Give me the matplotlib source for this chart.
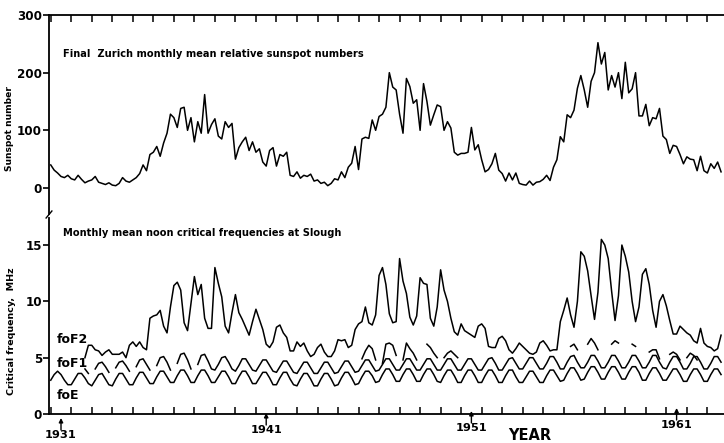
import numpy as np
import matplotlib
matplotlib.use("Agg")
import matplotlib.pyplot as plt

nan = np.nan
# time grid: every 2 months starting Jan 1931
start_year = 1931.0
step = 1.0 / 6.0

sunspot = [
    40, 31, 26, 20, 18, 22, 16, 14, 22, 15,
    9, 12, 14, 20, 10, 8, 6, 9, 5, 4,
    8, 18, 12, 10, 14, 18, 25, 40, 30, 58,
    62, 72, 55, 78, 95, 128, 122, 105, 138, 140,
    100, 122, 80, 115, 95, 162, 95, 110, 120, 90,
    85, 115, 105, 112, 50, 70, 80, 88, 65, 80,
    62, 68, 45, 38, 65, 70, 38, 58, 55, 62,
    22, 20, 28, 17, 22, 20, 24, 12, 14, 8,
    10, 4, 8, 16, 14, 28, 18, 36, 43, 72,
    32, 85, 88, 86, 118, 100, 124, 128, 140, 200,
    175, 170, 128, 95, 190, 176, 147, 153, 100, 181,
    150, 109, 127, 144, 141, 100, 115, 104, 62, 57,
    60, 60, 62, 105, 66, 75, 49, 28, 32, 42,
    60, 31, 25, 12, 26, 14, 26, 8, 6, 5,
    12, 5, 10, 11, 15, 22, 13, 36, 49, 89,
    80, 127, 122, 135, 173, 195, 170, 140, 185, 200,
    252, 215, 235, 170, 195, 175, 200, 155, 218, 165,
    172, 200, 125, 125, 145, 108, 122, 120, 138, 90,
    84, 60, 74, 72, 58, 42, 54, 50, 49, 30,
    55, 30, 26, 42, 34, 45, 28,
]

foF2 = [
    nan, nan, nan, nan, nan, nan, nan, nan, nan, nan,
    5.0, 6.1, 6.1, 5.7, 5.6, 5.2, 5.5, 5.7, 5.3, 5.3,
    5.3, 5.5, 5.0, 6.1, 6.4, 6.0, 6.4, 5.9, 5.7, 8.5,
    8.7, 8.8, 9.2, 7.8, 7.2, 9.5, 11.4, 11.7, 11.0, 8.1,
    7.4, 9.8, 12.2, 10.6, 11.5, 8.5, 7.6, 7.6, 13.0, 11.6,
    10.4, 7.8, 7.2, 9.0, 10.6, 9.0, 8.4, 7.7, 7.0, 8.2,
    9.3, 8.4, 7.5, 6.2, 5.9, 6.4, 7.7, 7.9, 7.2, 6.8,
    5.6, 5.6, 6.4, 6.0, 6.3, 5.6, 5.1, 5.3, 5.9, 6.2,
    5.5, 5.1, 5.1, 5.6, 6.6, 6.5, 6.6, 5.9, 6.1, 7.5,
    8.0, 8.2, 9.5, 8.1, 7.9, 8.8, 12.3, 13.0, 11.5, 8.9,
    8.1, 8.2, 13.8, 11.8, 10.7, 8.6, 7.9, 8.7, 12.1, 11.6,
    11.5, 8.5, 7.8, 9.5, 12.8, 11.0, 10.0, 8.5, 7.3, 7.0,
    8.0, 7.4, 7.2, 7.0, 6.8, 7.8, 8.0, 7.6, 6.0, 5.9,
    5.9, 6.7, 6.9, 6.5, 5.7, 5.4, 5.8, 6.3, 6.0, 5.7,
    5.4, 5.3, 5.5, 6.3, 6.5, 6.1, 5.6, 5.7, 5.7, 8.2,
    9.2, 10.3, 8.8, 7.7, 10.0, 14.4, 14.0, 12.7, 10.5, 8.4,
    10.8, 15.5, 15.0, 13.8, 10.9, 8.3, 10.5, 15.0, 14.0, 12.6,
    10.0, 8.2, 9.5, 12.4, 12.9, 11.5, 9.2, 7.7, 10.0, 10.6,
    9.6, 8.3, 7.1, 7.1, 7.8, 7.5, 7.2, 7.0, 6.5, 6.3,
    7.6, 6.3, 6.0, 5.9, 5.6, 5.8, 7.0,
]

# foF1 (seasonal), Jan Mar May Jul Sep Nov per year
foF1 = [
    nan, nan, nan, nan, nan, nan,          # 1931
    nan, nan, nan, nan, 4.0, 3.6,          # 1932
    nan, 4.0, 4.5, 4.6, 4.2, 3.7,          # 1933
    nan, 4.1, 4.6, 4.7, 4.3, 3.8,          # 1934
    nan, 4.2, 4.8, 4.9, 4.4, 3.9,          # 1935
    nan, 4.3, 5.0, 5.1, 4.6, 3.9,          # 1936
    nan, 4.5, 5.3, 5.4, 4.8, 4.0,          # 1937
    nan, 4.4, 5.2, 5.3, 4.7, 4.0,          # 1938
    3.9, 4.4, 5.0, 5.1, 4.6, 4.0,          # 1939
    3.8, 4.3, 4.9, 4.9, 4.4, 3.9,          # 1940
    3.8, 4.3, 4.8, 4.8, 4.3, 3.8,          # 1941
    3.7, 4.2, 4.7, 4.7, 4.2, 3.7,          # 1942
    3.6, 4.1, 4.6, 4.6, 4.1, 3.6,          # 1943
    3.6, 4.1, 4.6, 4.6, 4.1, 3.6,          # 1944
    3.7, 4.2, 4.7, 4.7, 4.2, 3.7,          # 1945
    3.8, 4.3, 4.8, 4.8, 4.3, 3.8,          # 1946
    3.9, 4.4, 4.9, 4.9, 4.4, 3.9,          # 1947
    3.9, 4.4, 4.9, 4.9, 4.4, 3.9,          # 1948
    3.9, 4.4, 4.9, 4.9, 4.4, 3.9,          # 1949
    3.9, 4.4, 4.9, 4.9, 4.4, 3.9,          # 1950
    3.9, 4.4, 4.9, 4.9, 4.4, 3.9,          # 1951
    3.9, 4.4, 4.9, 5.0, 4.5, 3.9,          # 1952
    3.9, 4.4, 4.9, 5.0, 4.5, 4.0,          # 1953
    4.0, 4.5, 5.0, 5.0, 4.5, 4.0,          # 1954
    4.0, 4.5, 5.1, 5.1, 4.6, 4.0,          # 1955
    4.0, 4.6, 5.1, 5.2, 4.6, 4.1,          # 1956
    4.1, 4.6, 5.2, 5.2, 4.7, 4.1,          # 1957
    4.1, 4.6, 5.2, 5.2, 4.7, 4.1,          # 1958
    4.1, 4.6, 5.2, 5.2, 4.7, 4.1,          # 1959
    4.1, 4.6, 5.2, 5.2, 4.6, 4.1,          # 1960
    4.0, 4.6, 5.1, 5.1, 4.6, 4.0,          # 1961
    4.0, 4.5, 5.1, 5.1, 4.6, 4.0,          # 1962
    4.0, 4.5, 5.1, 5.1, 4.6,               # 1963
]

# foF1 summer segments seen above the main curve in high-activity years
foF1_high = [nan] * 197
foF1_high_points = {
    91: 4.9, 92: 5.6, 93: 6.1, 94: 5.8, 95: 4.8,
    97: 4.5, 98: 6.2, 99: 6.3, 100: 6.1, 101: 5.2,
    103: 4.8, 104: 6.3, 105: 5.8, 106: 5.4, 107: 4.8,
    110: 6.2, 111: 5.9, 112: 5.4, 113: 5.0,
    115: 5.0, 116: 5.4, 117: 5.6, 118: 5.3, 119: 5.0,
    152: 6.0, 153: 6.2, 154: 5.7,
    157: 6.2, 158: 6.7, 159: 6.3, 160: 5.7,
    164: 6.2, 165: 6.5, 166: 6.3,
    170: 6.2, 171: 6.0,
    175: 5.5, 176: 5.7, 177: 5.7, 178: 4.9,
    181: 5.3, 182: 5.5, 183: 5.3, 184: 4.8,
    186: 5.0, 187: 5.4, 188: 5.2, 189: 4.8,
}
for k_, v_ in foF1_high_points.items():
    foF1_high[k_] = v_

foE = [
    3.0, 3.5, 3.8, 3.5, 3.0, 2.6,   # 1931
    2.6, 3.1, 3.6, 3.6, 3.2, 2.7,   # 1932
    2.5, 3.0, 3.5, 3.6, 3.1, 2.6,   # 1933
    2.5, 3.1, 3.6, 3.6, 3.1, 2.6,   # 1934
    2.6, 3.2, 3.7, 3.7, 3.2, 2.7,   # 1935
    2.7, 3.3, 3.8, 3.8, 3.3, 2.8,   # 1936
    2.8, 3.4, 3.9, 3.9, 3.4, 2.8,   # 1937
    2.8, 3.4, 3.9, 3.9, 3.4, 2.8,   # 1938
    2.8, 3.3, 3.8, 3.8, 3.3, 2.7,   # 1939
    2.7, 3.3, 3.8, 3.8, 3.3, 2.7,   # 1940
    2.7, 3.2, 3.7, 3.7, 3.2, 2.6,   # 1941
    2.6, 3.2, 3.7, 3.7, 3.1, 2.6,   # 1942
    2.5, 3.1, 3.6, 3.6, 3.1, 2.5,   # 1943
    2.5, 3.1, 3.6, 3.6, 3.1, 2.5,   # 1944
    2.6, 3.2, 3.7, 3.7, 3.2, 2.6,   # 1945
    2.7, 3.3, 3.8, 3.8, 3.4, 2.8,   # 1946
    2.9, 3.5, 4.0, 4.0, 3.5, 2.9,   # 1947
    2.9, 3.5, 4.0, 4.0, 3.5, 2.9,   # 1948
    2.9, 3.5, 4.0, 4.0, 3.5, 2.9,   # 1949
    2.8, 3.4, 3.9, 3.9, 3.4, 2.8,   # 1950
    2.8, 3.4, 3.9, 3.9, 3.4, 2.8,   # 1951
    2.8, 3.4, 3.9, 3.9, 3.4, 2.8,   # 1952
    2.8, 3.4, 3.9, 3.9, 3.3, 2.8,   # 1953
    2.8, 3.3, 3.8, 3.8, 3.3, 2.8,   # 1954
    2.8, 3.4, 3.9, 3.9, 3.4, 2.9,   # 1955
    3.0, 3.6, 4.1, 4.1, 3.6, 3.0,   # 1956
    3.1, 3.7, 4.2, 4.2, 3.7, 3.1,   # 1957
    3.1, 3.7, 4.2, 4.2, 3.7, 3.1,   # 1958
    3.1, 3.7, 4.2, 4.2, 3.7, 3.0,   # 1959
    3.0, 3.6, 4.1, 4.1, 3.6, 3.0,   # 1960
    3.0, 3.5, 4.0, 4.0, 3.5, 2.9,   # 1961
    2.9, 3.5, 4.0, 4.0, 3.5, 2.9,   # 1962
    2.9, 3.5, 4.0, 4.0, 3.5,        # 1963
]

sunspot_ticks = [0, 100, 200, 300]
freq_ticks = [0, 5, 10, 15]
year_labels = [1931, 1941, 1951, 1961]
year_label_px = [435, 430, 428, 425]   # label centre heights (scan is slightly tilted)

t = start_year + np.arange(len(sunspot)) * step

plt.rcParams['font.family'] = ['DejaVu Sans']
plt.rcParams['font.weight'] = 'bold'

fig = plt.figure(figsize=(7.24, 4.43), dpi=100)
W, H = 724.0, 443.0
left = 49 / W
ax1 = fig.add_axes([left, 1 - 214 / H, 1 - left, 199 / H])
ax2 = fig.add_axes([left, 1 - 414 / H, 1 - left, 196 / H])

xmin, xmax = 1930.915, 1963.81
lw = 1.1

# top panel
ax1.plot(t, sunspot, color='black', lw=lw)
ax1.set_xlim(xmin, xmax)
ax1.set_ylim(-45.1, 300)
for s in ['right', 'bottom']:
    ax1.spines[s].set_visible(False)
for s in ['left', 'top']:
    ax1.spines[s].set_linewidth(1.3)
ax1.set_yticks(sunspot_ticks)
ax1.set_yticklabels([str(v) for v in sunspot_ticks], fontsize=8.6, fontweight='bold')
ax1.tick_params(axis='y', direction='out', length=4, width=1.2, pad=1)
ax1.set_xticks(np.arange(1931, 1964))
ax1.tick_params(axis='x', which='both', top=True, bottom=False, labeltop=False,
                labelbottom=False, direction='in', length=5, width=1.1)
ax1.set_ylabel('Sunspot number', fontsize=6.6, fontweight='bold')
ax1.yaxis.set_label_coords(-0.052, 0.427)
ax1.text(1931.6, 232, 'Final  Zurich monthly mean relative sunspot numbers',
         fontsize=7.1, fontweight='bold', va='center', ha='left')

# bottom panel
ax2.plot(t, foF2, color='black', lw=lw)
ax2.plot(t, foF1, color='black', lw=lw)
ax2.plot(t, foF1_high, color='black', lw=lw)
ax2.plot(t, foE, color='black', lw=lw)
ax2.set_xlim(xmin, xmax)
ax2.set_ylim(0, 17.4)
for s in ['right', 'top']:
    ax2.spines[s].set_visible(False)
for s in ['left', 'bottom']:
    ax2.spines[s].set_linewidth(1.3)
ax2.set_yticks(freq_ticks)
ax2.set_yticklabels([str(v) for v in freq_ticks], fontsize=8.6, fontweight='bold')
ax2.tick_params(axis='y', direction='out', length=4, width=1.2, pad=1)
ax2.set_xticks(np.arange(1931, 1964))
ax2.tick_params(axis='x', direction='in', length=5, width=1.1, labelbottom=False)
ax2.set_ylabel('Critical frequency,  MHz', fontsize=6.8, fontweight='bold')
ax2.yaxis.set_label_coords(-0.049, 0.423)
ax2.text(1931.6, 16.1, 'Monthly mean noon critical frequencies at Slough',
         fontsize=7.1, fontweight='bold', va='center', ha='left')
ax2.text(1931.3, 6.6, 'foF2', fontsize=9, fontweight='bold', va='center', ha='left')
ax2.text(1931.3, 4.5, 'foF1', fontsize=9, fontweight='bold', va='center', ha='left')
ax2.text(1931.3, 1.6, 'foE', fontsize=9, fontweight='bold', va='center', ha='left')


def px_to_frac(ypx):
    return (414.0 - ypx) / 196.0


for yr, ypx in zip(year_labels, year_label_px):
    ax2.annotate('', xy=(yr + 0.5, px_to_frac(ypx - 17)), xycoords=('data', 'axes fraction'),
                 xytext=(yr + 0.5, px_to_frac(ypx - 5)), textcoords=('data', 'axes fraction'),
                 arrowprops=dict(arrowstyle='-|>', color='black', lw=1.0,
                                 mutation_scale=6, shrinkA=0, shrinkB=0))
    ax2.text(yr + 0.5, px_to_frac(ypx), str(yr), transform=ax2.get_xaxis_transform(),
             ha='center', va='center', fontsize=8.2, fontweight='bold')
ax2.text(1954.36, px_to_frac(436), 'YEAR', transform=ax2.get_xaxis_transform(),
         ha='center', va='center', fontsize=10.5, fontweight='bold')

# axis break mark on the left spine
fig.lines.append(plt.Line2D([left - 0.004, left + 0.004], [1 - 218 / H, 1 - 211 / H],
                            transform=fig.transFigure, color='black', lw=1.0))

fig.savefig('out.png', dpi=100)
